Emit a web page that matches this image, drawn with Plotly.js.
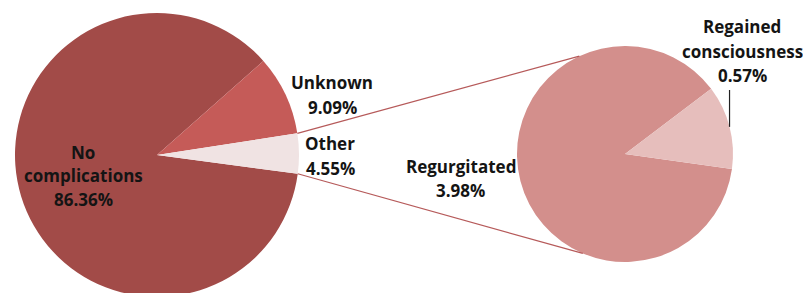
<!DOCTYPE html>
<html>
<head>
<meta charset="utf-8">
<script src="https://cdn.plot.ly/plotly-3.0.1.min.js"></script>
<style>
html,body{margin:0;padding:0;overflow:hidden;background:#fff;}
#chart{width:803px;height:320px;}
</style>
</head>
<body>
<div id="chart"></div>
<script>
// Data
const mainLabels = ["No complications", "Unknown", "Other"];
const mainValues = [86.36, 9.09, 4.55];
const subLabels = ["Regurgitated", "Regained consciousness"];
const subValues = [3.98, 0.57];
const mainLabelLines = [["No", "complications"], ["Unknown"], ["Other"]];
const subLabelLines = [["Regurgitated"], ["Regained", "consciousness"]];

// Layout geometry (pixels)
const W = 803, H = 320;
const L = {cx: 157, cy: 155, r: 142, rot: 97.6};
const R = {cx: 625, cy: 154, r: 108, rot: 98};
const mainColors = ["#a24b48", "#c55b58", "#f0e3e3"];
const subColors = ["#d38f8c", "#e6bebc"];
const px = x => x / W;
const py = y => (H - y) / H;

function dom(p) {
  return {x: [px(p.cx - p.r), px(p.cx + p.r)], y: [py(p.cy + p.r), py(p.cy - p.r)]};
}

const traces = [
  {type: "pie", labels: mainLabels, values: mainValues, sort: false, direction: "clockwise",
   rotation: L.rot, domain: dom(L), textinfo: "none", hoverinfo: "none",
   marker: {colors: mainColors, line: {width: 0}}, showlegend: false},
  {type: "pie", labels: subLabels, values: subValues, sort: false, direction: "clockwise",
   rotation: R.rot, domain: dom(R), textinfo: "none", hoverinfo: "none",
   marker: {colors: subColors, line: {width: 0}}, showlegend: false}
];

// Angles (math convention, degrees) derived from data
const mainTotal = mainValues.reduce((a, b) => a + b, 0);
const otherIdx = mainLabels.length - 1;
const otherStart = 90 - L.rot; // clockwise; last slice ends at start
const otherEnd = otherStart + mainValues[otherIdx] / mainTotal * 360;
const subTotal = subValues.reduce((a, b) => a + b, 0);
const regStart = 90 - R.rot;
const regMid = regStart + subValues[1] / subTotal * 360 / 2;

const rad = d => d * Math.PI / 180;
function pt(p, a, rr) { const r = rr || p.r; return [p.cx + r * Math.cos(rad(a)), p.cy - r * Math.sin(rad(a))]; }

const lineColor = "#b65a5a";
const a1 = pt(L, otherEnd), b1 = pt(R, 115);
const a2 = pt(L, otherStart), b2 = pt(R, -113);
const lp = pt(R, regMid);
const shapes = [
  {type: "line", xref: "paper", yref: "paper", x0: px(a1[0]), y0: py(a1[1]), x1: px(b1[0]), y1: py(b1[1]), line: {color: lineColor, width: 1.2}},
  {type: "line", xref: "paper", yref: "paper", x0: px(a2[0]), y0: py(a2[1]), x1: px(b2[0]), y1: py(b2[1]), line: {color: lineColor, width: 1.2}},
  {type: "line", xref: "paper", yref: "paper", x0: px(lp[0]), y0: py(lp[1]), x1: px(lp[0]), y1: py(90), line: {color: "#222", width: 1.2}}
];

const fmt = v => v.toFixed(2) + "%";
const font = {family: "'Open Sans', sans-serif", size: 17, color: "#141414", weight: 700};
const annotations = [];
function addLabel(lines, x, yTop, step) {
  lines.forEach((t, i) => {
    annotations.push({xref: "paper", yref: "paper", x: px(x), y: py(yTop + i * step), text: t,
      showarrow: false, xanchor: "center", yanchor: "middle", font: font});
  });
}
addLabel(mainLabelLines[0].concat([fmt(mainValues[0])]), 83, 152, 23.5);
addLabel(mainLabelLines[1].concat([fmt(mainValues[1])]), 332, 82, 25);
addLabel(mainLabelLines[2].concat([fmt(mainValues[2])]), 330, 143, 25);
addLabel(subLabelLines[0].concat([fmt(subValues[0])]), 461, 166, 24);
addLabel(subLabelLines[1].concat([fmt(subValues[1])]), 742, 27, 24);

Plotly.newPlot("chart", traces, {
  width: W, height: H, margin: {l: 0, r: 0, t: 0, b: 0},
  paper_bgcolor: "#fff", plot_bgcolor: "#fff", showlegend: false,
  shapes: shapes, annotations: annotations
}, {staticPlot: true});
</script>
</body>
</html>
